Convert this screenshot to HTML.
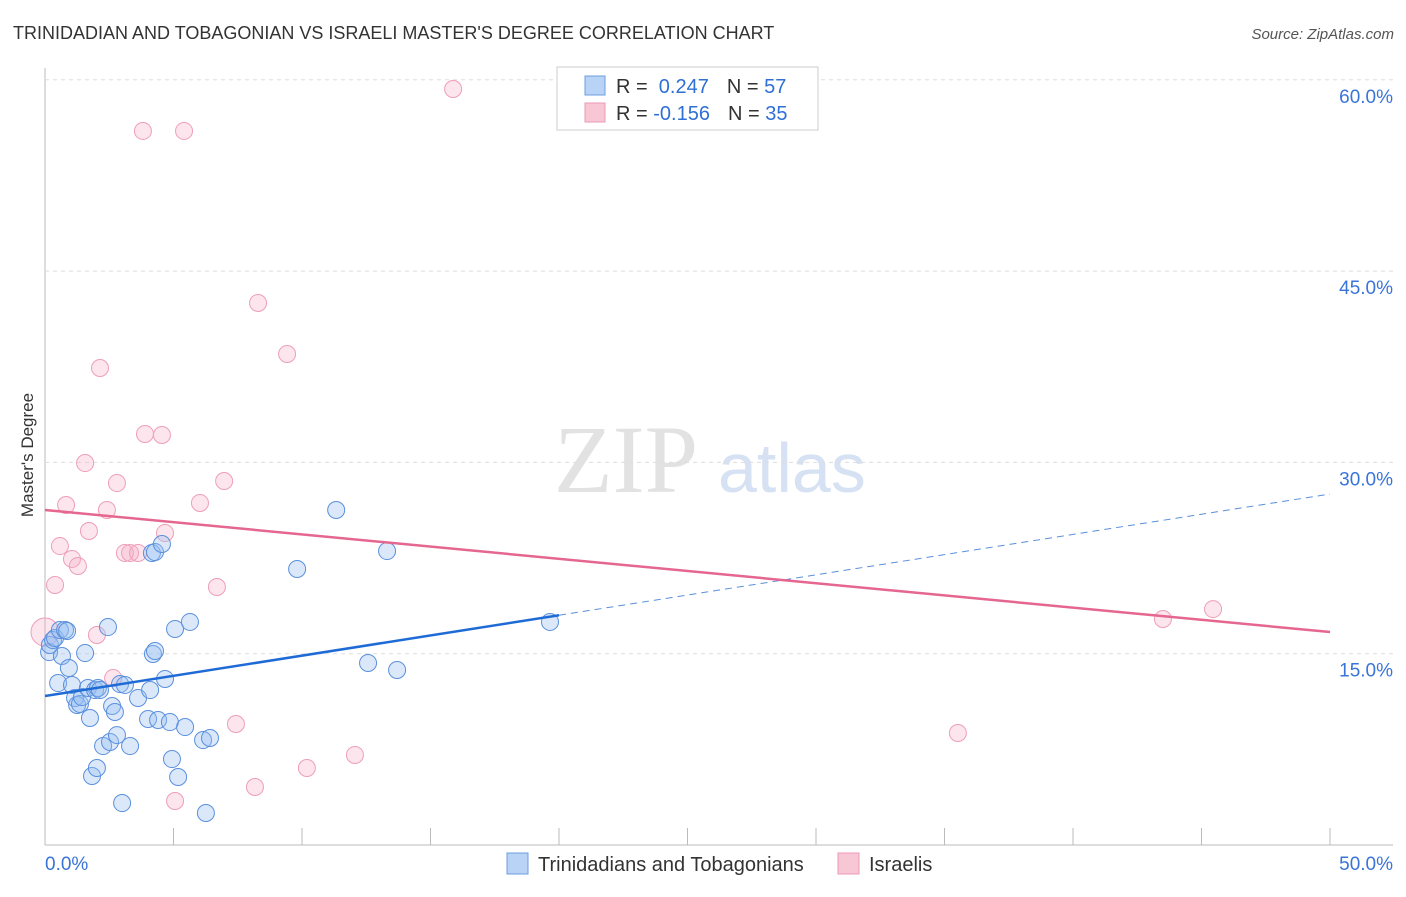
<!DOCTYPE html>
<html><head><meta charset="utf-8"><style>
body{margin:0;background:#fff;font-family:"Liberation Sans",sans-serif;}
svg text{font-family:"Liberation Sans",sans-serif;}
</style></head><body>
<svg id="c" width="1406" height="892">
<text x="13" y="39" font-size="18" fill="#333">TRINIDADIAN AND TOBAGONIAN VS ISRAELI MASTER'S DEGREE CORRELATION CHART</text>
<text x="1394" y="39" font-size="15" fill="#555" font-style="italic" text-anchor="end">Source: ZipAtlas.com</text>
<text transform="translate(33,455) rotate(-90)" font-size="17" fill="#333" text-anchor="middle">Master's Degree</text>
<text x="554" y="492" font-size="96" fill="#e2e2e2" style="font-family:'Liberation Serif',serif">ZIP</text>
<text x="718" y="492" font-size="70" fill="#d6e2f3">atlas</text>
<g id="grid"></g><g id="pts"></g><g id="lines"></g>
<g>
<rect x="557" y="67" width="261" height="63" fill="#fff" stroke="#ccc"/>
<rect x="585" y="76" width="20" height="19" fill="#b8d3f5" stroke="#6d9de0"/>
<rect x="585" y="103" width="20" height="19" fill="#f8c7d6" stroke="#eb9ab3"/>
<text x="616" y="93" font-size="20" fill="#333">R = <tspan fill="#2f6fd6">&#160;0.247</tspan><tspan dx="18">N = </tspan><tspan fill="#2f6fd6">57</tspan></text>
<text x="616" y="120" font-size="20" fill="#333">R = <tspan fill="#2f6fd6">-0.156</tspan><tspan dx="18">N = </tspan><tspan fill="#2f6fd6">35</tspan></text>
</g>
<g>
<rect x="507" y="853" width="21" height="21" fill="#b8d3f5" stroke="#6d9de0"/>
<text x="538" y="871" font-size="20" fill="#333">Trinidadians and Tobagonians</text>
<rect x="838" y="853" width="21" height="21" fill="#f8c7d6" stroke="#eb9ab3"/>
<text x="869" y="871" font-size="20" fill="#333">Israelis</text>
</g>
</svg>
<script>
const blueX=[0.16,0.19,0.31,0.39,0.51,0.58,0.66,0.78,0.86,0.93,1.05,1.17,1.25,1.36,1.44,1.56,1.67,1.75,1.83,1.95,2.02,2.06,2.14,2.26,2.45,2.53,2.61,2.72,2.80,2.92,3.0,3.11,3.31,3.62,4.01,4.09,4.16,4.28,4.55,4.2,4.28,4.4,4.67,4.86,4.94,5.06,5.18,5.45,5.64,6.15,6.26,6.42,9.81,11.33,12.57,13.31,13.7,19.65];
const blueY=[15.13,15.68,16.07,16.23,12.70,16.86,14.82,16.86,16.78,13.88,12.55,11.53,10.98,11.06,11.6,15.05,12.31,9.96,5.41,12.15,6.04,12.31,12.15,7.76,17.09,8.08,10.9,10.43,8.62,12.62,3.29,12.55,7.76,11.53,9.88,12.15,22.9,22.97,23.6,14.98,15.21,9.8,13.02,9.64,6.74,16.94,5.33,9.25,17.49,8.23,2.51,8.39,21.64,26.27,14.27,23.05,13.72,17.49];
const pinkX=[15.88,3.81,5.41,8.29,9.42,2.14,3.89,4.55,1.56,6.97,2.80,6.03,0.82,2.41,1.71,4.67,0.58,3.11,3.31,1.05,1.28,0.39,6.69,0,2.02,2.65,7.43,12.06,10.19,8.17,5.06,35.52,43.5,45.45,3.62];
const pinkY=[59.28,55.99,55.99,42.5,38.5,37.4,32.23,32.15,29.95,28.54,28.38,26.82,26.66,26.27,24.62,24.46,23.44,22.9,22.9,22.43,21.88,20.39,20.23,16.7,16.47,13.09,9.49,7.06,6.04,4.55,3.45,8.78,17.72,18.5,22.9];
const yTicks=[15,30,45,60];
const xTicks=[0,5,10,15,20,25,30,35,40,45,50];
const blueTrend=[11.68,27.52];
const pinkTrend=[26.27,16.7];
const X=v=>45+v/50*1285, Y=v=>845-v/15*191.3;
const NS='http://www.w3.org/2000/svg';
function mk(t,a,p){const e=document.createElementNS(NS,t);for(const k in a)e.setAttribute(k,a[k]);p.appendChild(e);return e;}
const g=document.getElementById('grid');
let ax=mk('line',{x1:45,y1:68,x2:45,y2:845,stroke:'#bbb'},g);


let bx=mk('line',{x1:45,y1:845,x2:1393,y2:845,stroke:'#bbb'},g);


yTicks.forEach(t=>{const l=mk('line',{x1:45,y1:Y(t),x2:1393,y2:Y(t),stroke:'#ddd','stroke-dasharray':'4,4'},g);


const tx=mk('text',{x:1393,y:Y(t)+23,'font-size':19,fill:'#3a74d9','text-anchor':'end'},g);tx.textContent=t.toFixed(1)+'%';

});
xTicks.forEach(t=>{const l=mk('line',{x1:X(t),y1:828,x2:X(t),y2:845,stroke:'#bbb'},g);

});
[[0,'start',45],[50,'end',1393]].forEach(([t,a,px])=>{const tx=mk('text',{x:px,y:870,'font-size':19,fill:'#3a74d9','text-anchor':a},g);tx.textContent=t.toFixed(1)+'%';

});
const p=document.getElementById('pts');
pinkX.forEach((x,i)=>{const e=mk('circle',{cx:X(x),cy:Y(pinkY[i]),r:x===0?14:8.5,fill:'rgba(245,170,195,0.3)',stroke:'#ee9fb8','stroke-width':1},p);

});
blueX.forEach((x,i)=>{const e=mk('circle',{cx:X(x),cy:Y(blueY[i]),r:8.5,fill:'rgba(150,190,240,0.35)',stroke:'#5b90dd','stroke-width':1},p);

});
const L=document.getElementById('lines');
const by=x=>blueTrend[0]+(blueTrend[1]-blueTrend[0])*x/50;
let l1=mk('line',{x1:X(0),y1:Y(by(0)),x2:X(20),y2:Y(by(20)),stroke:'#1f6bd6','stroke-width':2.5},L);


let l2=mk('line',{x1:X(20),y1:Y(by(20)),x2:X(50),y2:Y(by(50)),stroke:'#5a8fdc','stroke-width':1,'stroke-dasharray':'7,5'},L);


let l3=mk('line',{x1:X(0),y1:Y(pinkTrend[0]),x2:X(50),y2:Y(pinkTrend[1]),stroke:'#e5668f','stroke-width':2.5},L);


</script>
</body></html>
